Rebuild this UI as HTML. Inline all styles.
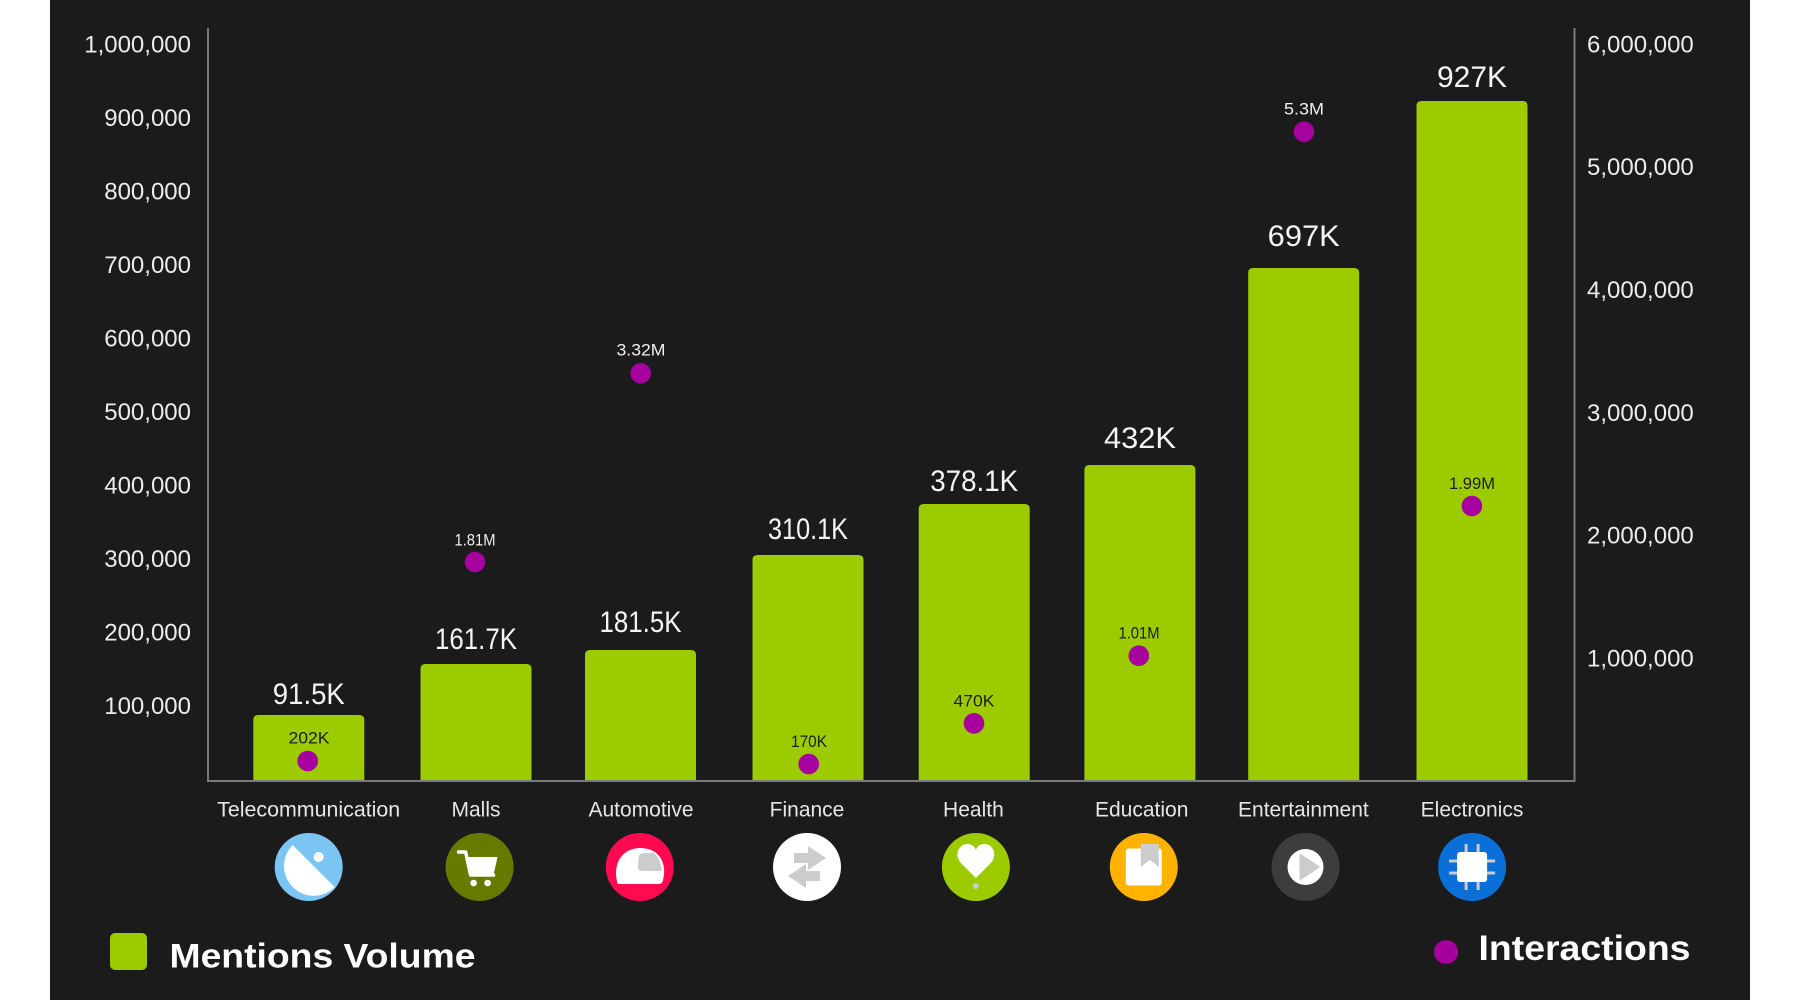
<!DOCTYPE html>
<html>
<head>
<meta charset="utf-8">
<style>
  html, body { margin: 0; padding: 0; background: #ffffff; }
  svg { display: block; }
  text { font-family: "Liberation Sans", "DejaVu Sans", sans-serif; }
</style>
</head>
<body>
<svg width="1800" height="1000" viewBox="0 0 1800 1000" xmlns="http://www.w3.org/2000/svg">
  <rect x="0" y="0" width="1800" height="1000" fill="#ffffff"/>
  <rect x="50" y="0" width="1700" height="1000" fill="#1b1b1b"/>

  <!-- Left axis tick labels -->
  <g font-size="24" fill="#ececec" text-anchor="end">
    <text x="191" y="52.4">1,000,000</text>
    <text x="191" y="125.9">900,000</text>
    <text x="191" y="199.5">800,000</text>
    <text x="191" y="273">700,000</text>
    <text x="191" y="346.5">600,000</text>
    <text x="191" y="420.1">500,000</text>
    <text x="191" y="493.6">400,000</text>
    <text x="191" y="567.1">300,000</text>
    <text x="191" y="640.6">200,000</text>
    <text x="191" y="714.1">100,000</text>
  </g>

  <!-- Right axis tick labels -->
  <g font-size="24" fill="#ececec" text-anchor="start">
    <text x="1587" y="52.4">6,000,000</text>
    <text x="1587" y="175.2">5,000,000</text>
    <text x="1587" y="298">4,000,000</text>
    <text x="1587" y="420.8">3,000,000</text>
    <text x="1587" y="543.6">2,000,000</text>
    <text x="1587" y="666.4">1,000,000</text>
  </g>

  <!-- Bars -->
  <g fill="#9ccb00">
    <path d="M253.3,781 V720 Q253.3,715 258.3,715 H359.3 Q364.3,715 364.3,720 V781 Z"/>
    <path d="M420.5,781 V669 Q420.5,664 425.5,664 H526.5 Q531.5,664 531.5,669 V781 Z"/>
    <path d="M585,781 V655 Q585,650 590,650 H691 Q696,650 696,655 V781 Z"/>
    <path d="M752.5,781 V560 Q752.5,555 757.5,555 H858.5 Q863.5,555 863.5,560 V781 Z"/>
    <path d="M918.7,781 V509 Q918.7,504 923.7,504 H1024.7 Q1029.7,504 1029.7,509 V781 Z"/>
    <path d="M1084.4,781 V470 Q1084.4,465 1089.4,465 H1190.4 Q1195.4,465 1195.4,470 V781 Z"/>
    <path d="M1248.2,781 V273 Q1248.2,268 1253.2,268 H1354.2 Q1359.2,268 1359.2,273 V781 Z"/>
    <path d="M1416.5,781 V106 Q1416.5,101 1421.5,101 H1522.5 Q1527.5,101 1527.5,106 V781 Z"/>
  </g>

  <!-- Axes -->
  <g stroke="#7a7a7a" stroke-width="2" fill="none">
    <line x1="208" y1="28" x2="208" y2="781"/>
    <line x1="1574.5" y1="28" x2="1574.5" y2="781"/>
    <line x1="207" y1="781" x2="1575.5" y2="781"/>
  </g>

  <!-- Bar value labels -->
  <g font-size="30" fill="#f4f4f4" text-anchor="middle">
    <text x="308.8" y="704" textLength="72" lengthAdjust="spacingAndGlyphs">91.5K</text>
    <text x="476" y="649" textLength="82" lengthAdjust="spacingAndGlyphs">161.7K</text>
    <text x="640.5" y="632" textLength="82" lengthAdjust="spacingAndGlyphs">181.5K</text>
    <text x="808" y="539" textLength="80" lengthAdjust="spacingAndGlyphs">310.1K</text>
    <text x="974.2" y="491" textLength="88" lengthAdjust="spacingAndGlyphs">378.1K</text>
    <text x="1140" y="448" textLength="72" lengthAdjust="spacingAndGlyphs">432K</text>
    <text x="1303.7" y="246" textLength="72" lengthAdjust="spacingAndGlyphs">697K</text>
    <text x="1472" y="87" textLength="70" lengthAdjust="spacingAndGlyphs">927K</text>
  </g>

  <!-- Interaction dots -->
  <g fill="#a6009f">
    <circle cx="307.7" cy="761" r="10.3"/>
    <circle cx="475" cy="562" r="10.3"/>
    <circle cx="640.7" cy="373.3" r="10.3"/>
    <circle cx="808.7" cy="764" r="10.3"/>
    <circle cx="974" cy="723.3" r="10.3"/>
    <circle cx="1138.8" cy="655.7" r="10.3"/>
    <circle cx="1304" cy="131.7" r="10.3"/>
    <circle cx="1471.9" cy="506" r="10.3"/>
  </g>

  <!-- Interaction labels -->
  <g font-size="17" text-anchor="middle">
    <text x="309" y="743.5" fill="#1e1e1e" textLength="41" lengthAdjust="spacingAndGlyphs">202K</text>
    <text x="475" y="545.5" fill="#f0f0f0" textLength="41" lengthAdjust="spacingAndGlyphs">1.81M</text>
    <text x="641" y="355.5" fill="#f0f0f0" textLength="49" lengthAdjust="spacingAndGlyphs">3.32M</text>
    <text x="809" y="747" fill="#1e1e1e" textLength="36" lengthAdjust="spacingAndGlyphs">170K</text>
    <text x="974" y="706.3" fill="#1e1e1e" textLength="41" lengthAdjust="spacingAndGlyphs">470K</text>
    <text x="1139" y="638.7" fill="#1e1e1e" textLength="41" lengthAdjust="spacingAndGlyphs">1.01M</text>
    <text x="1304" y="114.7" fill="#f0f0f0" textLength="40" lengthAdjust="spacingAndGlyphs">5.3M</text>
    <text x="1472" y="489" fill="#1e1e1e" textLength="46" lengthAdjust="spacingAndGlyphs">1.99M</text>
  </g>

  <!-- Category labels -->
  <g font-size="21" fill="#e6e6e6" text-anchor="middle">
    <text x="308.7" y="816.5" textLength="183" lengthAdjust="spacingAndGlyphs">Telecommunication</text>
    <text x="476" y="816.5">Malls</text>
    <text x="641" y="816.5">Automotive</text>
    <text x="807" y="816.5">Finance</text>
    <text x="973.4" y="816.5">Health</text>
    <text x="1141.7" y="816.5">Education</text>
    <text x="1303.4" y="816.5">Entertainment</text>
    <text x="1472" y="816.5">Electronics</text>
  </g>

  <!-- Icons -->
  <!-- Telecom -->
  <g transform="translate(308.7,867)">
    <circle r="34" fill="#7cc5f3"/>
    <path d="M-16,-22 A29.5,29.5 0 0 0 26,20 Z" fill="#ffffff"/>
    <circle cx="10" cy="-10" r="5" fill="#ffffff"/>
  </g>
  <!-- Malls -->
  <g transform="translate(479.6,867)">
    <circle r="34" fill="#677a00"/>
    <path d="M-21,-15 H-14 L-9,8 H14" stroke="#ffffff" stroke-width="3.5" fill="none" stroke-linejoin="round" stroke-linecap="round"/>
    <path d="M-13,-10 H18 L14,7 H-9 Z" fill="#ffffff"/>
    <circle cx="-6" cy="16" r="3.3" fill="#ffffff"/>
    <circle cx="8" cy="16" r="3.3" fill="#ffffff"/>
  </g>
  <!-- Automotive -->
  <g transform="translate(639.8,867)">
    <circle r="34" fill="#ff0a50"/>
    <path d="M-22,17 C-27,2 -22,-18 0,-19 C19,-19 26,-5 24,9 L23,14 Q22,17 18,17 Z" fill="#ffffff"/>
    <path d="M-1,-11 Q0,-14 5,-14 L14,-14 Q21,-8 22,4 L3,4 Q-2,4 -2,0 Z" fill="#cccccc"/>
  </g>
  <!-- Finance -->
  <g transform="translate(807,867)">
    <circle r="34" fill="#ffffff"/>
    <path d="M-13,-14 H1 V-21 L19,-9 L1,3 V-4 H-13 Z" fill="#cccccc"/>
    <path d="M13,4 H-1 V-3 L-19,9 L-1,21 V14 H13 Z" fill="#cccccc"/>
  </g>
  <!-- Health -->
  <g transform="translate(975.9,867)">
    <circle r="34" fill="#9ccb00"/>
    <path d="M0,11 L-14,-3 C-23,-12 -17,-24 -7,-23 C-3,-22 -1,-20 0,-17 C1,-20 3,-22 7,-23 C17,-24 23,-12 14,-3 Z" fill="#ffffff"/>
    <circle cx="0" cy="19" r="3" fill="#cccccc"/>
  </g>
  <!-- Education -->
  <g transform="translate(1143.8,867)">
    <circle r="34" fill="#ffb300"/>
    <rect x="-18" y="-18.5" width="36" height="37" rx="3" fill="#ffffff"/>
    <path d="M-3,-23 H15 V0 L6,-7 L-3,0 Z" fill="#cccccc"/>
  </g>
  <!-- Entertainment -->
  <g transform="translate(1305.5,867)">
    <circle r="34" fill="#3d3d3d"/>
    <circle r="18" fill="#ffffff"/>
    <path d="M-5,-12 L13,0 L-5,12 Z" fill="#cccccc" stroke="#cccccc" stroke-width="2" stroke-linejoin="round"/>
  </g>
  <!-- Electronics -->
  <g transform="translate(1472.1,867)">
    <circle r="34" fill="#0a6fd6"/>
    <g stroke="#cccccc" stroke-width="3">
      <line x1="-6" y1="-23" x2="-6" y2="-14"/>
      <line x1="6" y1="-23" x2="6" y2="-14"/>
      <line x1="-6" y1="23" x2="-6" y2="14"/>
      <line x1="6" y1="23" x2="6" y2="14"/>
      <line x1="-23" y1="-6" x2="-14" y2="-6"/>
      <line x1="-23" y1="6" x2="-14" y2="6"/>
      <line x1="23" y1="-6" x2="14" y2="-6"/>
      <line x1="23" y1="6" x2="14" y2="6"/>
    </g>
    <rect x="-15" y="-15" width="30" height="30" rx="3" fill="#ffffff"/>
  </g>

  <!-- Legend -->
  <rect x="110" y="933" width="37" height="37" rx="5" fill="#9ccb00"/>
  <text x="169.5" y="967.5" font-size="34" font-weight="bold" fill="#ffffff" textLength="306" lengthAdjust="spacingAndGlyphs">Mentions Volume</text>
  <circle cx="1446" cy="952" r="12" fill="#a6009f"/>
  <text x="1478.5" y="960" font-size="35" font-weight="bold" fill="#ffffff" textLength="212" lengthAdjust="spacingAndGlyphs">Interactions</text>
</svg>
</body>
</html>
